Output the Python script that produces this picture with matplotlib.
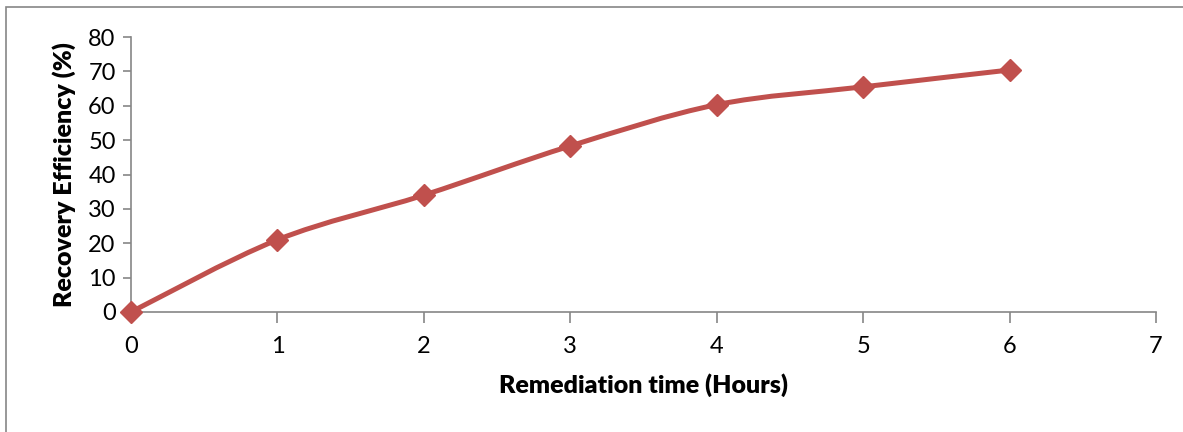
import matplotlib.pyplot as plt
from matplotlib.path import Path
from matplotlib.patches import PathPatch, Rectangle

hours = [0, 1, 2, 3, 4, 5, 6]
efficiency = [0, 21, 34, 48.3, 60.3, 65.5, 70.4]

red = "#C0504D"
grey = "#868686"

plt.rcParams["font.family"] = ["Lato", "DejaVu Sans"]

fig = plt.figure(figsize=(11.83, 4.32), dpi=100)
ax = fig.add_axes([131 / 1183, 1 - 312 / 432, (1156 - 131) / 1183, (312 - 37) / 432])

# outer chart frame (only left and top visible in the crop)
fig.patches.append(Rectangle((6 / 1183, -0.1), 1.2, 1 - 7 / 432 + 0.1,
                             transform=fig.transFigure, fill=False,
                             edgecolor=grey, linewidth=1.2))

# smoothed line through the points (Catmull-Rom style Bezier segments)
pts = list(zip(hours, efficiency))
verts = [pts[0]]
codes = [Path.MOVETO]
n = len(pts)
for i in range(n - 1):
    p0 = pts[max(i - 1, 0)]
    p1 = pts[i]
    p2 = pts[i + 1]
    p3 = pts[min(i + 2, n - 1)]
    c1 = (p1[0] + (p2[0] - p0[0]) / 6, p1[1] + (p2[1] - p0[1]) / 6)
    c2 = (p2[0] - (p3[0] - p1[0]) / 6, p2[1] - (p3[1] - p1[1]) / 6)
    verts += [c1, c2, p2]
    codes += [Path.CURVE4] * 3
ax.add_patch(PathPatch(Path(verts, codes), facecolor="none", edgecolor=red,
                       linewidth=3.6, capstyle="round", joinstyle="round",
                       clip_on=False, zorder=3))
ax.plot(hours, efficiency, linestyle="none", marker="D", markersize=11,
        color=red, clip_on=False, zorder=4)

ax.set_xlim(0, 7)
ax.set_ylim(0, 80)
ax.set_xticks(range(0, 8))
ax.set_yticks(range(0, 90, 10))

for side in ["top", "right"]:
    ax.spines[side].set_visible(False)
for side in ["left", "bottom"]:
    ax.spines[side].set_color(grey)
    ax.spines[side].set_linewidth(1.2)

ax.tick_params(axis="x", direction="out", length=8, width=1.2, color=grey,
               labelsize=17, pad=9)
ax.tick_params(axis="y", direction="out", length=6, width=1.2, color=grey,
               labelsize=17, pad=5)

ax.set_xlabel("Remediation time (Hours)", fontsize=18, fontweight="heavy",
              labelpad=12)
ax.set_ylabel("Recovery Efficiency (%)", fontsize=18, fontweight="heavy",
              labelpad=9)

fig.savefig("out.png", dpi=100)
